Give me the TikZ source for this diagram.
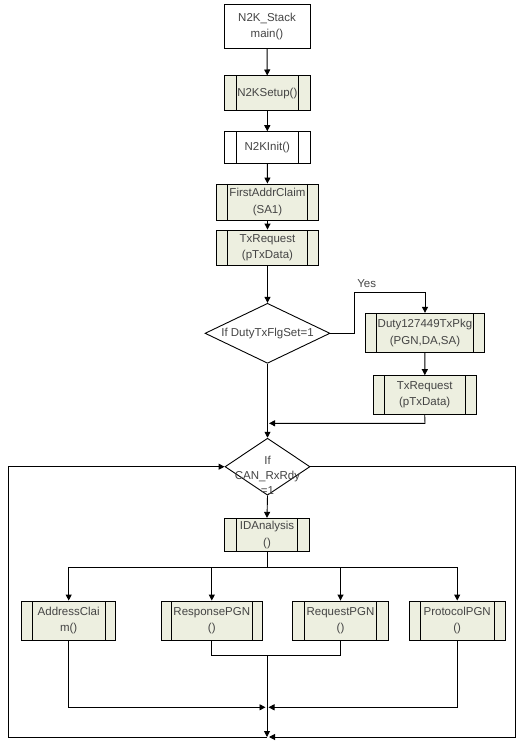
\documentclass[tikz,border=0pt]{standalone}
\usepackage{fontspec}
\setmainfont{Liberation Sans}
\usetikzlibrary{arrows.meta,shapes.geometric}
\definecolor{procfill}{HTML}{EDEFE0}
\definecolor{txtgray}{HTML}{444444}
\tikzset{
  sub/.style={draw, path picture={
      \draw[line width=0.9pt] ([xshift=#1]path picture bounding box.north west) -- ([xshift=#1]path picture bounding box.south west);
      \draw[line width=0.9pt] ([xshift=-#1]path picture bounding box.north east) -- ([xshift=-#1]path picture bounding box.south east);}},
  sub/.default=11pt,
  gfill/.style={fill=procfill},
  plainbox/.style={draw, fill=white},
  dec/.style={draw, diamond, fill=white, aspect=2},
  arr/.style={-{Triangle[length=6pt,width=6pt]}},
  lbl/.style={font=\fontsize{11.5}{15}\selectfont, text=txtgray, align=center, inner sep=0pt},
}
\begin{document}
\begin{tikzpicture}[x=1pt,y=-1pt, line width=0.9pt,
  every node/.style={font=\fontsize{11.5}{16.5}\selectfont, text=txtgray, align=center, inner sep=0pt}]
\useasboundingbox (0,0) rectangle (525,743);

% main column
\node[plainbox, minimum width=86pt, minimum height=43.6pt] (start) at (267,26.5) {N2K\_Stack\\main()};
\node[sub=12pt, gfill, minimum width=86.7pt, minimum height=34.7pt] (setup) at (267.3,93.3) {N2KSetup()};
\node[sub=12pt, fill=white, minimum width=86pt, minimum height=31.6pt] (init) at (267.3,147.5) {N2KInit()};
\node[sub=10.6pt, gfill, minimum width=101.6pt, minimum height=36pt] (first) at (267.5,202) {FirstAddrClaim\\(SA1)};
\node[sub=10.6pt, gfill, minimum width=101.6pt, minimum height=35pt] (tx1) at (267.5,247.5) {TxRequest\\(pTxData)};
\node[dec, minimum width=125pt, minimum height=60pt] (d1) at (267.5,333.3) {If DutyTxFlgSet=1};

% yes branch
\node[sub=11pt, gfill, minimum width=118.6pt, minimum height=39pt] (duty) at (425,332.8) {Duty127449TxPkg\\(PGN,DA,SA)};
\node[sub=11pt, gfill, minimum width=102.7pt, minimum height=38.3pt] (tx2) at (424.7,394.8) {TxRequest\\(pTxData)};
\node (yes) at (366.7,283.3) {Yes};
\coordinate (y1) at (354,333.3);
\coordinate (y2) at (354,292.7);
\coordinate (y3) at (425,292.7);
\coordinate (m1) at (425,423.3);
\coordinate (m2) at (267.5,423.3);

% second decision
\node[dec, minimum width=85pt, minimum height=57pt] (d2) at (267.5,466.7) {};
\node[lbl] (d2t) at (267.5,475) {If\\CAN\_RxRdy\\=1};

\node[sub=12pt, gfill, minimum width=85pt, minimum height=33.4pt] (ida) at (267,535) {IDAnalysis\\()};

% four branches
\node[sub=10.7pt, gfill, minimum width=94pt, minimum height=39pt] (ac) at (68.7,620.5) {AddressClai\\m()};
\node[sub=10.7pt, gfill, minimum width=101.7pt, minimum height=39pt] (resp) at (211.8,620.5) {ResponsePGN\\()};
\node[sub=12pt, gfill, minimum width=95.6pt, minimum height=39pt] (req) at (340.5,620.5) {RequestPGN\\()};
\node[sub=11pt, gfill, minimum width=95.7pt, minimum height=39pt] (prot) at (457.2,620.5) {ProtocolPGN\\()};

\coordinate (br) at (267,567.3);
\coordinate (brL) at (68.7,567.3);
\coordinate (brR) at (457.2,567.3);
\coordinate (j1) at (267,655.7);
\coordinate (j2) at (267,707.3);
\coordinate (bot) at (267,737);
\coordinate (bl) at (8.3,737);
\coordinate (tl) at (8.3,466.7);
\coordinate (tr) at (515,466.7);
\coordinate (brt) at (515,737);

% connectors main column
\draw[arr] (start) -- (setup);
\draw[arr] (setup) -- (init);
\draw[arr] (init) -- (first);
\draw[arr] (first) -- (tx1);
\draw[arr] (tx1) -- (d1);
\draw[arr] (d1.south) -- (d2.north);
\draw[arr] (d2.south) -- (ida.north);

% yes branch connectors
\draw[arr] (d1.east) -- (y1) -- (y2) -- (y3) -- (duty.north);
\draw[arr] (duty) -- (tx2);
\draw[arr] (tx2.south) -- (m1) -- ([xshift=1.5pt]m2);

% branch to four boxes
\draw (ida.south) -- (br);
\draw (brL) -- (brR);
\draw[arr] (brL) -- (ac.north);
\draw[arr] (resp.north |- br) -- (resp.north);
\draw[arr] (req.north |- br) -- (req.north);
\draw[arr] (brR) -- (prot.north);

% joins below
\draw (resp.south) |- (j1) -| (req.south);
\draw[arr] (j1) -- (bot);
\draw[arr] (ac.south) |- ([xshift=-1.5pt]j2);
\draw[arr] (prot.south) |- ([xshift=1.5pt]j2);

% loop
\draw[arr] (d2.east) -- (tr) -- (brt) -- ([xshift=2pt]bot);
\draw[arr] (bot) -- (bl) -- (tl) -- (d2.west);
\end{tikzpicture}
\end{document}
